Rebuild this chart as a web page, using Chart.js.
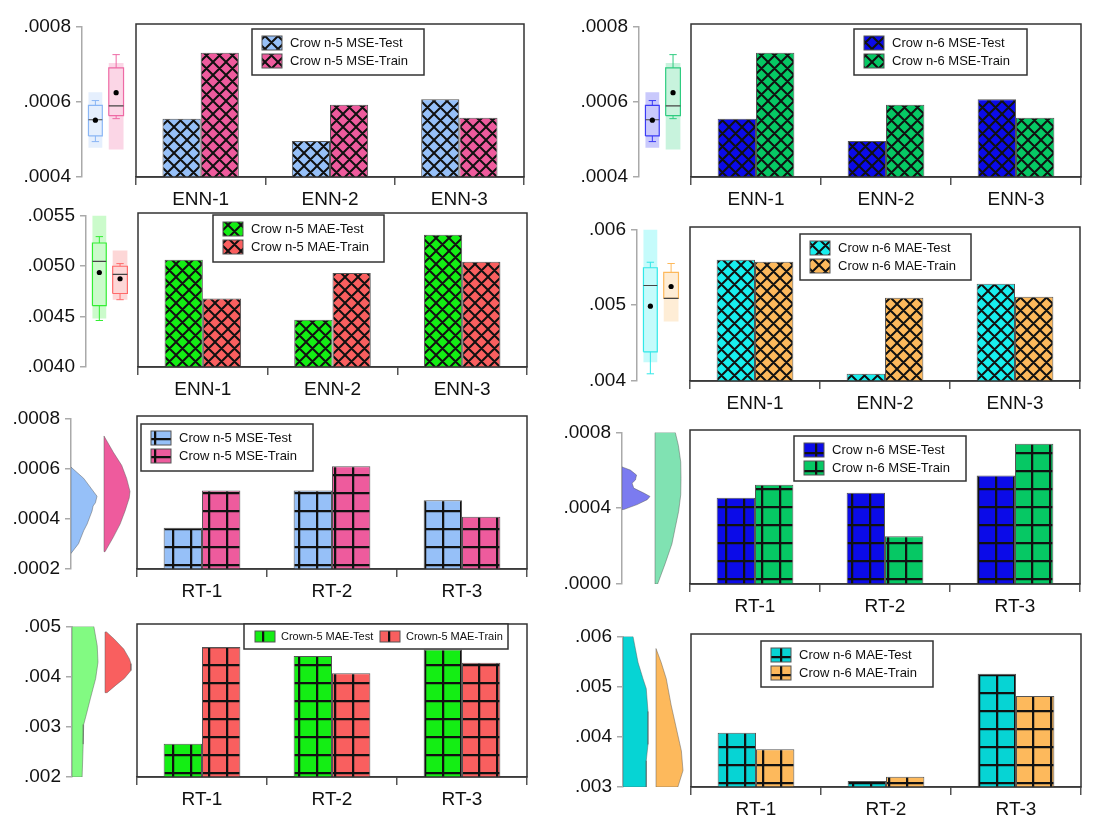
<!DOCTYPE html>
<html>
<head>
<meta charset="utf-8">
<script src="https://cdn.jsdelivr.net/npm/chart.js@4.4.1/dist/chart.umd.min.js"></script>
<style>
  html, body { margin: 0; padding: 0; background: #fff; }
  #fig { position: relative; width: 1098px; height: 820px; overflow: hidden; }
  #fig canvas { position: absolute; }
</style>
</head>
<body>
<div id="fig"></div>
<script>
// categories
const ennLabels = ['ENN-1', 'ENN-2', 'ENN-3'];
const rtLabels = ['RT-1', 'RT-2', 'RT-3'];

// series names
const ennMseN5Names = ['Crow n-5 MSE-Test', 'Crow n-5 MSE-Train'];
const ennMseN6Names = ['Crow n-6 MSE-Test', 'Crow n-6 MSE-Train'];
const ennMaeN5Names = ['Crow n-5 MAE-Test', 'Crow n-5 MAE-Train'];
const ennMaeN6Names = ['Crow n-6 MAE-Test', 'Crow n-6 MAE-Train'];
const rtMseN5Names = ['Crow n-5 MSE-Test', 'Crow n-5 MSE-Train'];
const rtMseN6Names = ['Crow n-6 MSE-Test', 'Crow n-6 MSE-Train'];
const rtMaeN5Names = ['Crown-5 MAE-Test', 'Crown-5 MAE-Train'];
const rtMaeN6Names = ['Crow n-6 MAE-Test', 'Crow n-6 MAE-Train'];

// bar values
const ennMseN5Test = [0.000552, 0.000494, 0.000603];
const ennMseN5Train = [0.000725, 0.000589, 0.000555];
const ennMseN6Test = [0.000552, 0.000494, 0.000603];
const ennMseN6Train = [0.000725, 0.000589, 0.000555];
const ennMaeN5Test = [0.005045, 0.004461, 0.005289];
const ennMaeN5Train = [0.004666, 0.004916, 0.005026];
const ennMaeN6Test = [0.005576, 0.004095, 0.005264];
const ennMaeN6Train = [0.00555, 0.005082, 0.005095];
const rtMseN5Test = [0.000362, 0.000508, 0.00047];
const rtMseN5Train = [0.000508, 0.000603, 0.000405];
const rtMseN6Test = [0.000448, 0.000474, 0.000563];
const rtMseN6Train = [0.000516, 0.000248, 0.000729];
const rtMaeN5Test = [0.002654, 0.004373, 0.0045];
const rtMaeN5Train = [0.004549, 0.004033, 0.004242];
const rtMaeN6Test = [0.004065, 0.003118, 0.005222];
const rtMaeN6Train = [0.003739, 0.003203, 0.004784];

// box stats: [shadeLow, whiskerLow, q1, median, q3, whiskerHigh, shadeHigh, mean]
const ennMseTestBox = [0.000478, 0.000494, 0.000509, 0.000552, 0.00059, 0.000603, 0.000625, 0.000551];
const ennMseTrainBox = [0.000473, 0.000555, 0.000563, 0.000589, 0.00069, 0.000725, 0.000703, 0.000624];
const ennMaeN5TestBox = [0.00448, 0.00446, 0.004607, 0.005045, 0.005227, 0.00529, 0.0055, 0.004935];
const ennMaeN5TrainBox = [0.004666, 0.004666, 0.004727, 0.004916, 0.004997, 0.005023, 0.005153, 0.004873];
const ennMaeN6TestBox = [0.004247, 0.004095, 0.004385, 0.00526, 0.005494, 0.005567, 0.006, 0.004987];
const ennMaeN6TrainBox = [0.004784, 0.00509, 0.00509, 0.00509, 0.005433, 0.00555, 0.005433, 0.005247];

// half-violin profiles: values and relative widths
const rtMseN5TestVy = [0.000606, 0.000561, 0.000522, 0.00049, 0.000464, 0.000451, 0.000431, 0.000379, 0.000353, 0.000301, 0.000262];
const rtMseN5TestVw = [0, 0.49, 0.77, 1.0, 0.94, 0.85, 0.81, 0.62, 0.49, 0.29, 0];
const rtMseN5TrainVy = [0.00073, 0.000665, 0.000613, 0.000561, 0.000509, 0.000483, 0.000431, 0.000379, 0.000327, 0.000269];
const rtMseN5TrainVw = [0, 0.36, 0.68, 0.87, 1.0, 0.97, 0.81, 0.62, 0.36, 0.04];
const rtMseN6TestVy = [0.000618, 0.000601, 0.000575, 0.000549, 0.000532, 0.000506, 0.00048, 0.000462, 0.000445, 0.000419, 0.000393];
const rtMseN6TestVw = [0, 0.3, 0.52, 0.48, 0.36, 0.42, 0.78, 1.0, 0.9, 0.54, 0.06];
const rtMseN6TrainVy = [0.0008, 0.000731, 0.000644, 0.000558, 0.000471, 0.000384, 0.000298, 0.000211, 0.000107, 0.0];
const rtMseN6TrainVw = [0.78, 0.9, 0.99, 1.0, 0.99, 0.91, 0.78, 0.65, 0.39, 0.1];
const rtMaeN5TestVy = [0.005, 0.004614, 0.004288, 0.003961, 0.003569, 0.003242, 0.003046, 0.002654, 0.002];
const rtMaeN5TestVw = [0.84, 0.97, 1.0, 0.91, 0.71, 0.55, 0.45, 0.43, 0.39];
const rtMaeN5TrainVy = [0.004889, 0.004745, 0.004549, 0.004353, 0.004255, 0.004124, 0.003961, 0.00383, 0.00368];
const rtMaeN5TrainVw = [0.06, 0.36, 0.72, 0.94, 1.0, 1.0, 0.74, 0.42, 0.08];
const rtMaeN6TestVy = [0.006, 0.005484, 0.005157, 0.00496, 0.004503, 0.00385, 0.003523, 0.003];
const rtMaeN6TestVw = [0.4, 0.6, 0.8, 0.93, 1.0, 1.0, 0.93, 0.93];
const rtMaeN6TrainVy = [0.005758, 0.005484, 0.005157, 0.004634, 0.004176, 0.003719, 0.003327, 0.003];
const rtMaeN6TrainVw = [0.03, 0.19, 0.38, 0.56, 0.75, 0.94, 1.0, 0.81];

const FONT = "'Liberation Sans', Arial, sans-serif";
Chart.defaults.font.family = FONT;
const XH = 40, PT = 14, AW = 70;
const BOX_X = [[7, 22], [29, 45]];
const VIO_X = [0, 33];

function hatch(color, kind) {
  const s = kind === 'cross' ? 13 : 18;
  const c = document.createElement('canvas');
  c.width = s; c.height = s;
  const g = c.getContext('2d');
  g.fillStyle = color;
  g.fillRect(0, 0, s, s);
  g.strokeStyle = '#111';
  g.beginPath();
  if (kind === 'cross') {
    g.lineWidth = 2;
    for (let k = -1; k <= 1; k++) {
      g.moveTo(k * s, 0); g.lineTo(k * s + s, s);
      g.moveTo(k * s + s, 0); g.lineTo(k * s, s);
    }
  } else {
    g.lineWidth = 2.5;
    g.moveTo(1, 0); g.lineTo(1, s);
    g.moveTo(0, 1); g.lineTo(s, 1);
  }
  g.stroke();
  return g.createPattern(c, 'repeat');
}

const panels = [
  { axis: 82, fl: 136, fr: 524, top: 24, bot: 177, labels: ennLabels, names: ennMseN5Names,
    test: ennMseN5Test, train: ennMseN5Train, colors: ['#96c0f8', '#ee5b9d'], kind: 'cross',
    min: 0.0004, max: 0.0008, step: 0.0002, dec: 4,
    boxes: [ennMseTestBox, ennMseTrainBox], boxCol: ['#8ab6f5', '#ee6aa5'], shade: ['rgba(150,192,248,0.25)', 'rgba(238,91,157,0.25)'],
    leg: { x: 116, y: 5, w: 172, h: 46 } },
  { axis: 639, fl: 691, fr: 1081, top: 24, bot: 177, labels: ennLabels, names: ennMseN6Names,
    test: ennMseN6Test, train: ennMseN6Train, colors: ['#0b0be8', '#06c864'], kind: 'cross',
    min: 0.0004, max: 0.0008, step: 0.0002, dec: 4,
    boxes: [ennMseTestBox, ennMseTrainBox], boxCol: ['#3a3af5', '#2ecc80'], shade: ['rgba(60,60,245,0.28)', 'rgba(6,200,100,0.22)'],
    leg: { x: 163, y: 5, w: 173, h: 46 } },
  { axis: 86, fl: 138, fr: 527, top: 213, bot: 367, labels: ennLabels, names: ennMaeN5Names,
    test: ennMaeN5Test, train: ennMaeN5Train, colors: ['#14ee14', '#f95f5f'], kind: 'cross',
    min: 0.004, max: 0.0055, step: 0.0005, dec: 4,
    boxes: [ennMaeN5TestBox, ennMaeN5TrainBox], boxCol: ['#33ee33', '#ff6a6a'], shade: ['rgba(20,238,20,0.22)', 'rgba(249,95,95,0.25)'],
    leg: { x: 75, y: 2, w: 171, h: 47 } },
  { axis: 637, fl: 690, fr: 1080, top: 227, bot: 381, labels: ennLabels, names: ennMaeN6Names,
    test: ennMaeN6Test, train: ennMaeN6Train, colors: ['#18eeee', '#fdb95c'], kind: 'cross',
    min: 0.004, max: 0.006, step: 0.001, dec: 3,
    boxes: [ennMaeN6TestBox, ennMaeN6TrainBox], boxCol: ['#30e8e8', '#fdb95c'], shade: ['rgba(24,238,238,0.25)', 'rgba(253,185,92,0.25)'],
    leg: { x: 110, y: 7, w: 171, h: 46 } },
  { axis: 71, fl: 137, fr: 527, top: 416, bot: 569, labels: rtLabels, names: rtMseN5Names,
    test: rtMseN5Test, train: rtMseN5Train, colors: ['#96c0f8', '#ee5b9d'], kind: 'grid',
    min: 0.0002, max: 0.0008, step: 0.0002, dec: 4,
    vy: [rtMseN5TestVy, rtMseN5TrainVy], vw: [rtMseN5TestVw, rtMseN5TrainVw], vcol: ['#96c0f8', '#ee5b9d'], vmax: [26, 26],
    leg: { x: 4, y: 8, w: 172, h: 47 } },
  { axis: 622, fl: 690, fr: 1080, top: 430, bot: 584, labels: rtLabels, names: rtMseN6Names,
    test: rtMseN6Test, train: rtMseN6Train, colors: ['#0b0be8', '#06c864'], kind: 'grid',
    min: 0, max: 0.0008, step: 0.0004, dec: 4,
    vy: [rtMseN6TestVy, rtMseN6TrainVy], vw: [rtMseN6TestVw, rtMseN6TrainVw], vcol: ['#7b7bf0', '#80e2b2'], vmax: [28, 26],
    leg: { x: 104, y: 6, w: 172, h: 45 } },
  { axis: 72, fl: 137, fr: 527, top: 624, bot: 777, labels: rtLabels, names: rtMaeN5Names,
    test: rtMaeN5Test, train: rtMaeN5Train, colors: ['#14ee14', '#f95f5f'], kind: 'grid',
    min: 0.002, max: 0.005, step: 0.001, dec: 3,
    vy: [rtMaeN5TestVy, rtMaeN5TrainVy], vw: [rtMaeN5TestVw, rtMaeN5TrainVw], vcol: ['#82fa82', '#f95f5f'], vmax: [26, 26],
    leg: { x: 107, y: 0, w: 264, h: 25, row: true } },
  { axis: 623, fl: 691, fr: 1081, top: 634, bot: 787, labels: rtLabels, names: rtMaeN6Names,
    test: rtMaeN6Test, train: rtMaeN6Train, colors: ['#06d4d4', '#fdb95c'], kind: 'grid',
    min: 0.003, max: 0.006, step: 0.001, dec: 3,
    vy: [rtMaeN6TestVy, rtMaeN6TrainVy], vw: [rtMaeN6TestVw, rtMaeN6TrainVw], vcol: ['#06d4d4', '#fdb95c'], vmax: [25, 27],
    leg: { x: 70, y: 7, w: 172, h: 46 } }
];

const framePlugin = {
  id: 'frame',
  afterDatasetsDraw(chart) {
    const { ctx, chartArea: a } = chart;
    ctx.save();
    ctx.strokeStyle = '#333';
    ctx.lineWidth = 1.5;
    ctx.strokeRect(a.left, a.top, a.right - a.left, a.bottom - a.top);
    ctx.restore();
  }
};

const boxLegend = {
  id: 'boxLegend',
  afterDraw(chart, args, o) {
    const { ctx, chartArea: a } = chart;
    const x = a.left + o.x, y = a.top + o.y;
    ctx.save();
    ctx.fillStyle = '#fff';
    ctx.fillRect(x, y, o.w, o.h);
    ctx.strokeStyle = '#333';
    ctx.lineWidth = 1.5;
    ctx.strokeRect(x, y, o.w, o.h);
    ctx.font = (o.row ? 11 : 13) + 'px ' + FONT;
    ctx.textBaseline = 'middle';
    chart.data.datasets.forEach((ds, i) => {
      const sw = 20, sh = o.row ? 11 : 14;
      const sx = x + (o.row ? 11 + i * 125 : 10);
      const sy = o.row ? y + 7 : y + 7 + i * 18;
      ctx.fillStyle = ds.backgroundColor;
      ctx.fillRect(sx, sy, sw, sh);
      ctx.strokeStyle = '#555';
      ctx.lineWidth = 1;
      ctx.strokeRect(sx, sy, sw, sh);
      ctx.fillStyle = '#111';
      ctx.fillText(ds.label, sx + (o.row ? 26 : 28), sy + sh / 2 + 0.5);
    });
    ctx.restore();
  }
};

function rect(x0, x1, lo, hi) {
  return [{ x: x0, y: lo }, { x: x1, y: lo }, { x: x1, y: hi }, { x: x0, y: hi }, { x: x0, y: lo }];
}

function seg(data, color, w) {
  return { data, borderColor: color, borderWidth: w, fill: false };
}

function sideLayers(p) {
  const layers = [];
  if (p.boxes) {
    p.boxes.forEach((st, i) => {
      const [sLo, wLo, q1, med, q3, wHi, sHi, mean] = st;
      const [x0, x1] = BOX_X[i];
      const xm = (x0 + x1) / 2, cap = 4;
      const col = p.boxCol[i];
      layers.push({ data: rect(x0, x1, sLo, sHi), fill: 'shape', backgroundColor: p.shade[i], borderWidth: 0 });
      layers.push(seg(rect(x0, x1, q1, q3), col, 1.2));
      layers.push(seg([{ x: xm, y: wLo }, { x: xm, y: q1 }], col, 1));
      layers.push(seg([{ x: xm, y: q3 }, { x: xm, y: wHi }], col, 1));
      layers.push(seg([{ x: xm - cap, y: wLo }, { x: xm + cap, y: wLo }], col, 1));
      layers.push(seg([{ x: xm - cap, y: wHi }, { x: xm + cap, y: wHi }], col, 1));
      layers.push(seg([{ x: x0, y: med }, { x: x1, y: med }], '#444', 1.2));
      layers.push({ data: [{ x: xm, y: mean }], showLine: false, pointRadius: 2.6,
        pointBackgroundColor: '#000', pointBorderWidth: 0 });
    });
  } else {
    p.vy.forEach((ys, i) => {
      const x0 = VIO_X[i], W = p.vmax[i], ws = p.vw[i];
      const outer = ys.map((v, k) => ({ x: x0 + ws[k] * W, y: v }));
      const pts = [{ x: x0, y: ys[0] }, ...outer, { x: x0, y: ys[ys.length - 1] }, { x: x0, y: ys[0] }];
      layers.push({ data: pts, fill: 'shape', backgroundColor: p.vcol[i], borderColor: 'rgba(90,90,90,0.6)', borderWidth: 0.8 });
    });
  }
  return layers.map((d, idx) => Object.assign({ order: layers.length - idx, tension: 0 }, d));
}

const fig = document.getElementById('fig');

panels.forEach(p => {
  const ch = PT + (p.bot - p.top) + XH;
  const tickFmt = v => Number(v).toFixed(p.dec).replace(/^0/, '');

  // side chart: y axis with box plots / half violins
  const xMax = p.fl - p.axis - 2;
  const sc = document.createElement('canvas');
  sc.width = AW + xMax; sc.height = ch;
  sc.style.left = (p.axis - AW) + 'px';
  sc.style.top = (p.top - PT) + 'px';
  fig.appendChild(sc);
  new Chart(sc, {
    type: 'line',
    data: { datasets: sideLayers(p) },
    options: {
      responsive: false, animation: false,
      layout: { padding: { top: PT, bottom: XH, left: 0, right: 0 } },
      elements: { point: { radius: 0 }, line: { tension: 0 } },
      plugins: { legend: { display: false }, tooltip: { enabled: false } },
      scales: {
        x: { type: 'linear', display: false, min: 0, max: xMax },
        y: {
          min: p.min, max: p.max,
          afterFit: s => { s.width = AW; },
          grid: { drawOnChartArea: false, tickLength: 6, color: '#aaa', lineWidth: 1.5 },
          border: { color: '#aaa', width: 1.5 },
          ticks: { stepSize: p.step, padding: 5, color: '#111', font: { size: 19 }, callback: tickFmt }
        }
      }
    }
  });

  // main bar chart
  const mc = document.createElement('canvas');
  mc.width = p.fr - p.fl + 3; mc.height = ch;
  mc.style.left = (p.fl - 1) + 'px';
  mc.style.top = (p.top - PT) + 'px';
  fig.appendChild(mc);
  new Chart(mc, {
    type: 'bar',
    data: {
      labels: p.labels,
      datasets: [
        { label: p.names[0], data: p.test, backgroundColor: hatch(p.colors[0], p.kind), borderColor: '#555', borderWidth: 1 },
        { label: p.names[1], data: p.train, backgroundColor: hatch(p.colors[1], p.kind), borderColor: '#555', borderWidth: 1 }
      ]
    },
    options: {
      responsive: false, animation: false,
      layout: { padding: { top: PT, left: 1, right: 2, bottom: 0 } },
      datasets: { bar: { categoryPercentage: 0.59, barPercentage: 1 } },
      plugins: { legend: { display: false }, tooltip: { enabled: false }, boxLegend: p.leg },
      scales: {
        x: {
          afterFit: s => { s.height = XH; },
          grid: { offset: true, drawOnChartArea: false, tickLength: 8, color: '#555', lineWidth: 1.5 },
          border: { color: '#555', width: 1.5 },
          ticks: { padding: 3, color: '#111', font: { size: 19 } }
        },
        y: { display: false, min: p.min, max: p.max }
      }
    },
    plugins: [framePlugin, boxLegend]
  });
});
</script>
</body>
</html>
